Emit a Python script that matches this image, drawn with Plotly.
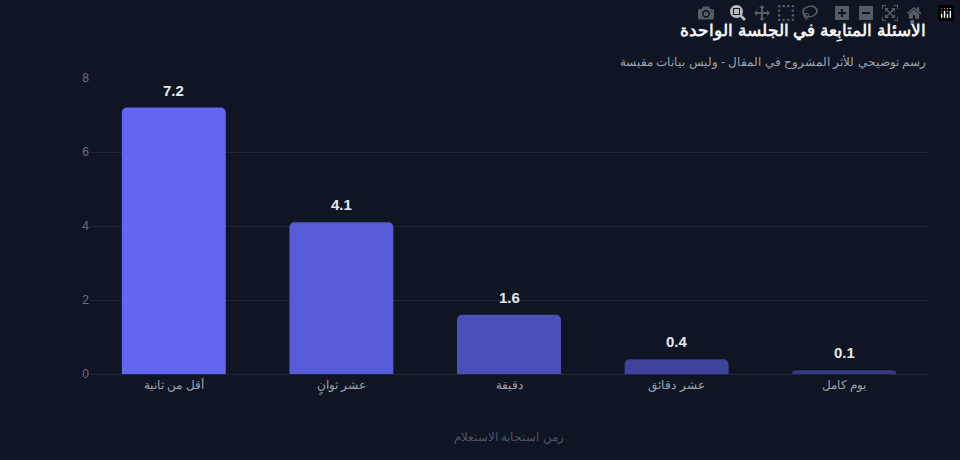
import plotly.graph_objects as go

categories = ["أقل من ثانية", "عشر ثوانٍ", "دقيقة", "عشر دقائق", "يوم كامل"]
values = [7.2, 4.1, 1.6, 0.4, 0.1]
colors = ["#6366f1", "#585bd6", "#4b4fb8", "#40429c", "#363885"]
y_ticks = [0, 2, 4, 6, 8]

fig = go.Figure(go.Bar(
    x=categories, y=values, marker=dict(color=colors, cornerradius=5, line=dict(width=0)),
    width=0.62, hoverinfo="x+y",
))
annotations = [
    dict(x=c, y=v, text=f"<b>{v:.1f}</b>", showarrow=False, yanchor="bottom", yshift=7,
         font=dict(color="#e5e7eb", size=15, family="Liberation Sans"))
    for c, v in zip(categories, values)
]
annotations += [
    dict(text="<b>الأسئلة المتابِعة في الجلسة الواحدة</b>", x=1, xref="paper", xanchor="right",
         y=1.162, yref="paper", yanchor="middle", showarrow=False,
         font=dict(size=17, color="#f3f4f6")),
    dict(text="رسم توضيحي للأثر المشروح في المقال - وليس بيانات مقيسة", x=1, xref="paper",
         xanchor="right", y=1.057, yref="paper", showarrow=False, yanchor="middle",
         font=dict(size=12, color="#9ca3af")),
    dict(text="زمن استجابة الاستعلام", x=0.5, xref="paper", y=-0.213, yref="paper",
         yanchor="middle", showarrow=False, font=dict(size=12, color="#4b5563")),
]
fig.update_layout(
    width=960, height=460, paper_bgcolor="#0f1523", plot_bgcolor="#0f1523",
    margin=dict(l=90, r=32, t=78, b=86),
    font=dict(family="Liberation Sans", color="#9ca3af", size=12),
    showlegend=False, annotations=annotations,
)
fig.update_yaxes(range=[0, 8], tickvals=y_ticks, gridcolor="#1f2737", zeroline=False,
                 tickfont=dict(color="#6b7280", size=12), ticks="")
fig.update_xaxes(showline=True, linecolor="#1f2737", tickfont=dict(color="#9ca3af", size=12))
fig.write_html("out.html",
               post_script="document.body.style.margin='0';document.body.style.background='#0f1523';")
